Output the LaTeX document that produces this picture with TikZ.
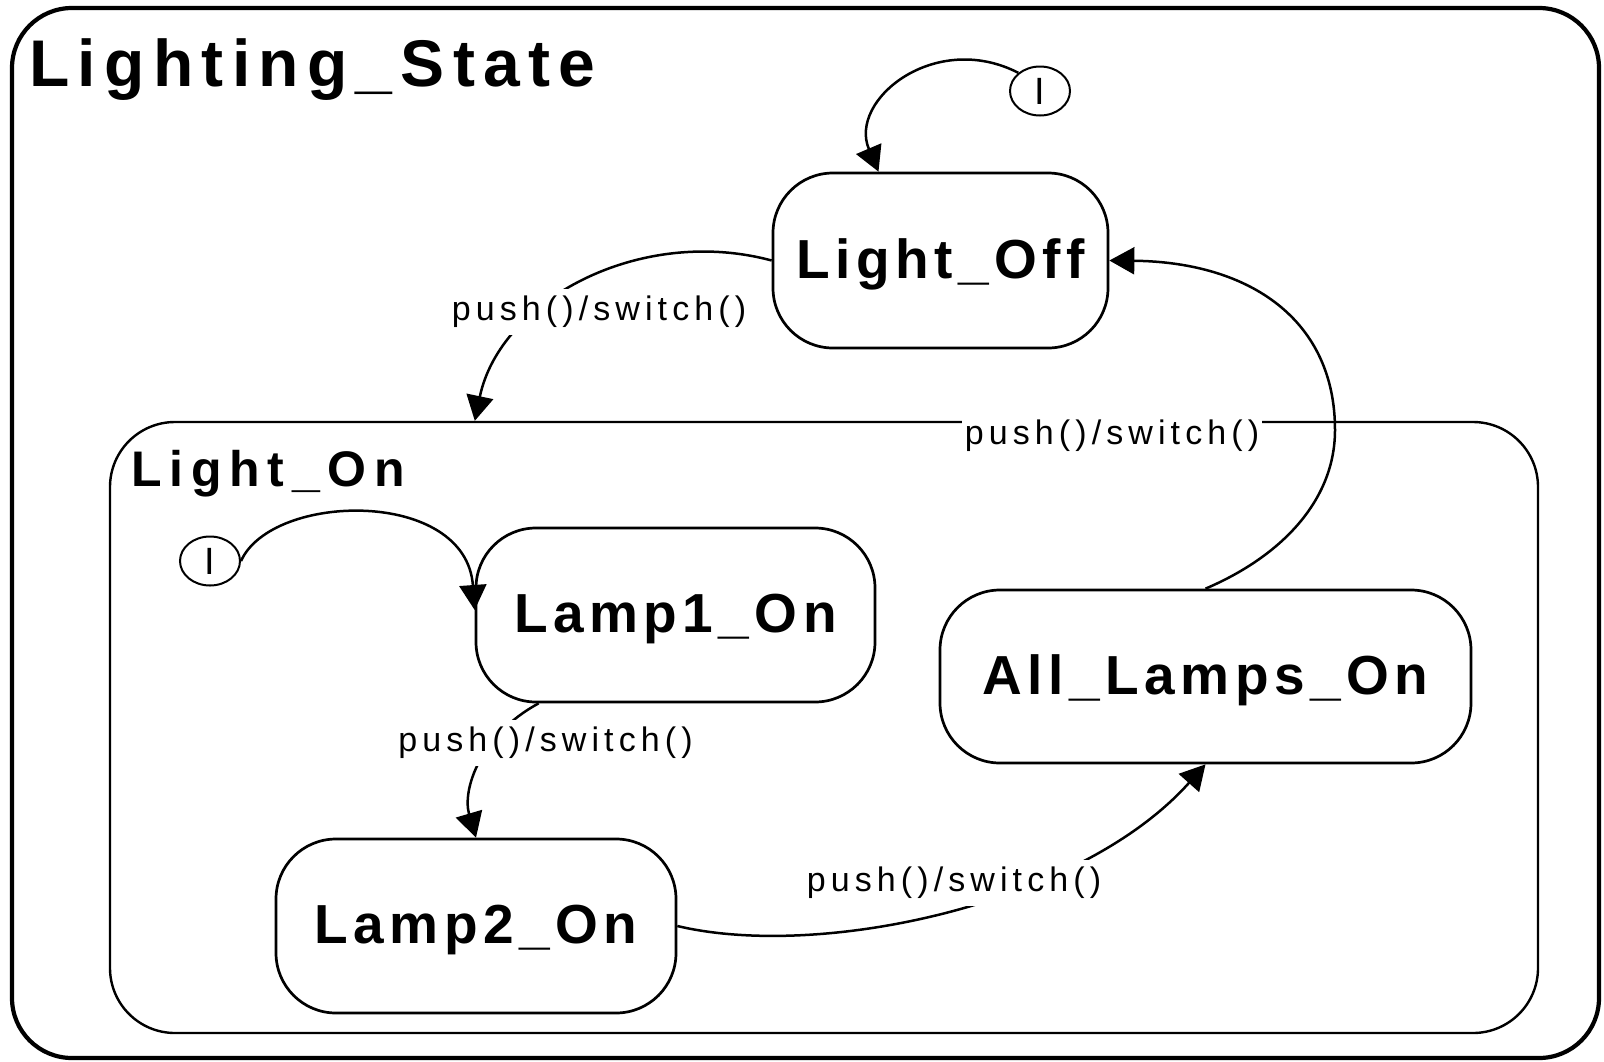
\documentclass[tikz,border=0pt]{standalone}
\usepackage{fontspec}
\setmainfont{Liberation Sans}
\newfontfamily\titlefont[LetterSpace=12.6]{Liberation Sans}
\newfontfamily\subfont[LetterSpace=15.5]{Liberation Sans}
\newfontfamily\statefont[LetterSpace=10]{Liberation Sans}
\newfontfamily\labfont[LetterSpace=15]{Liberation Sans}
\usetikzlibrary{arrows.meta,shapes.geometric}
\begin{document}
\begin{tikzpicture}[x=1pt,y=-1pt,
  statebox/.style={draw, line width=2.7pt, rounded corners=60pt, minimum width=#1,
    minimum height=174pt, inner sep=0pt,
    font=\statefont\bfseries\fontsize{55}{60}\selectfont, text height=40pt, text depth=5pt},
  initst/.style={draw, ellipse, line width=2pt, minimum width=60pt, minimum height=49pt,
    inner sep=0pt, font=\fontsize{38}{40}\selectfont},
  lab/.style={fill=white, inner xsep=3pt, inner ysep=7pt,
    font=\labfont\fontsize{34}{40}\selectfont},
  arr/.style={line width=2.5pt, -{Triangle[length=25pt,width=27pt]}}]
\useasboundingbox (0,0) rectangle (1604,1061);
% outer composite state
\node[draw, line width=4.2pt, rounded corners=60pt, minimum width=1587pt, minimum height=1050pt, inner sep=0pt] (ls) at (805.5,533) {};
\node[anchor=base west, inner sep=0pt, font=\titlefont\bfseries\fontsize{66}{70}\selectfont] (ttl) at (29,86) {Lighting\_State};
% Light_On composite
\node[draw, line width=2.4pt, rounded corners=65pt, minimum width=1428pt, minimum height=611pt, inner sep=0pt] (lon) at (824,727.5) {};
\node[anchor=base west, inner sep=0pt, font=\subfont\bfseries\fontsize{50}{56}\selectfont] (tlon) at (131,486) {Light\_On};
% states
\node[statebox=335pt, minimum height=175pt] (off) at (940.5,260.5) {Light\_Off};
\node[statebox=399pt] (l1) at (675.5,615) {Lamp1\_On};
\node[statebox=400pt] (l2) at (476,926) {Lamp2\_On};
\node[statebox=531pt, minimum height=173pt] (all) at (1205.5,676.5) {All\_Lamps\_On};
% initial pseudostates
\node[initst] (ti) at (1040,91) {I};
\node[initst] (ii) at (210,561) {I};
% transitions
\draw[arr] (ti.140) .. controls (935,30) and (848,100) .. ([xshift=-62pt]off.north);
\draw[arr] (ii.east) .. controls (272,492) and (466,488) .. ([yshift=5pt]l1.west);
\draw[arr] (off.west) .. controls (640,225) and (500,300) .. ([xshift=366pt]lon.north west);
\draw[arr] ([xshift=64pt]l1.south west) .. controls (480,735) and (462,790) .. (l2.north);
\draw[arr] (l2.east) .. controls (820,960) and (1080,905) .. (all.south);
\draw[arr] (all.north) .. controls (1282,556) and (1335,500) .. (1335,430)
  .. controls (1335,320) and (1250,262) .. (off.east);
% labels
\node[lab] (t1) at (599,312) {push()/switch()};
\node[lab] (t2) at (1112,436) {push()/switch()};
\node[lab] (t3) at (545.5,743) {push()/switch()};
\node[lab] (t4) at (954,883) {push()/switch()};
\end{tikzpicture}
\end{document}
